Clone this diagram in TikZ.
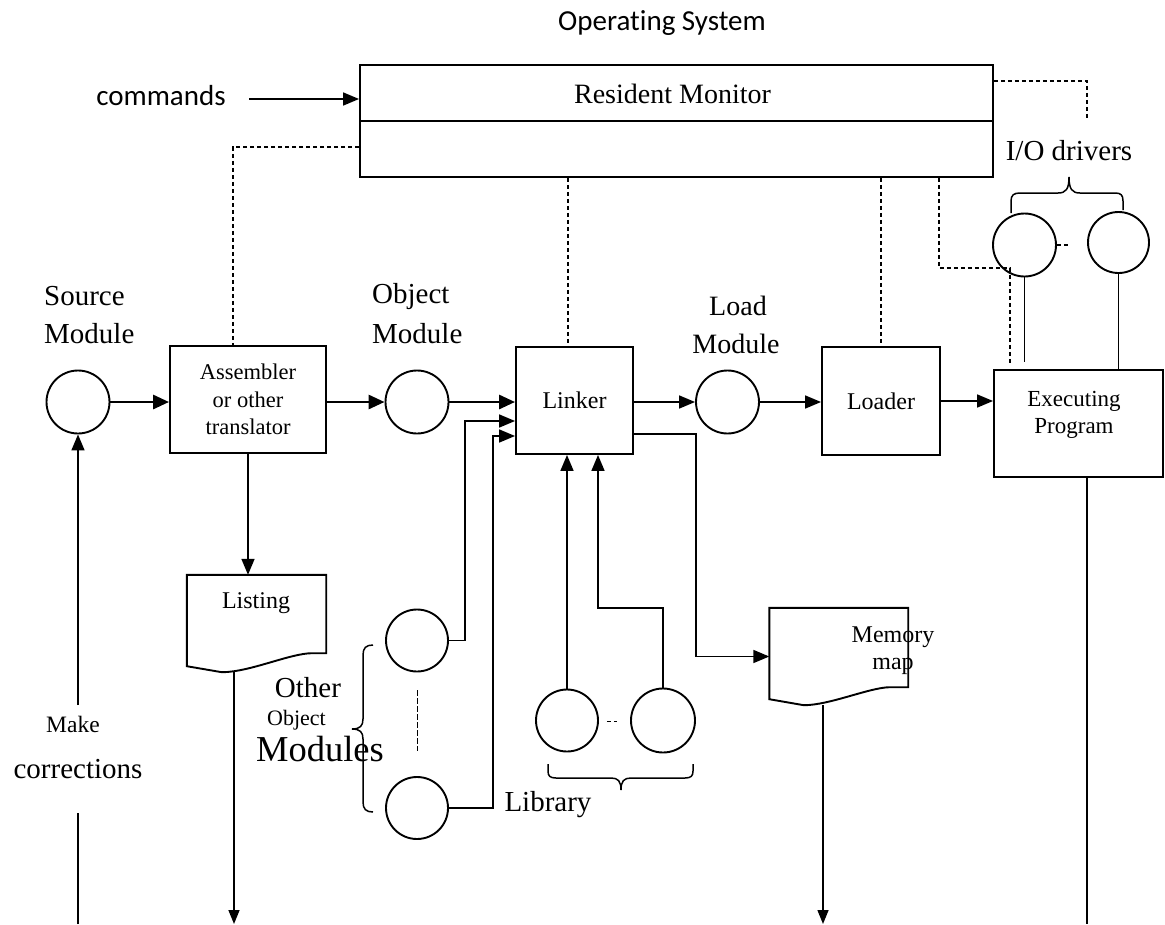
\documentclass[tikz,border=0pt]{standalone}
\usepackage{fontspec}
\setmainfont{Liberation Serif}
\newfontfamily\calibrifont[Ligatures=NoCommon]{Carlito}
\usetikzlibrary{arrows.meta,calc}

\begin{document}
\begin{tikzpicture}[x=1pt,y=-1pt,
  box/.style={draw, line width=1.9pt, inner sep=0pt},
  ring/.style={draw, circle, line width=1.9pt, minimum size=63pt, inner sep=0pt},
  wire/.style={line width=1.7pt},
  arr/.style={wire, -{Triangle[length=16pt,width=13pt]}},
  thickarr/.style={line width=2.9pt, -{Triangle[length=16pt,width=14pt]}},
  droparr/.style={line width=1.5pt, -{Triangle[length=14pt,width=11pt]}},
  dashline/.style={line width=1.4pt, dash pattern=on 4pt off 3pt},
  bracket/.style={line width=1.5pt},
  txt/.style={inner sep=0pt, anchor=base, font=\fontsize{29}{35}\selectfont},
  small/.style={inner sep=0pt, anchor=base, font=\fontsize{23}{28}\selectfont},
  sans/.style={inner sep=0pt, anchor=base, font=\calibrifont\fontsize{29}{35}\selectfont},
]
\useasboundingbox (0,0) rectangle (1165,924);

% --- operating system and resident monitor ---
\node[sans] (os) at (662,30) {Operating System};
\node[sans] (cmd) at (161,105) {commands};
\node[box, minimum width=633pt, minimum height=112pt] (rm) at (676.5,121) {};
\draw[line width=1.2pt] (rm.west) -- (rm.east);
\node[txt, font=\fontsize{28}{34}\selectfont] (rmtxt) at (672.5,103) {Resident Monitor};
\node[txt] (iotxt) at (1069,160) {I/O drivers};

% --- module labels ---
\node[txt, anchor=base west] (srcA) at (44,305) {Source};
\node[txt, anchor=base west] (srcB) at (44,343) {Module};
\node[txt, anchor=base west] (objA) at (372,303) {Object};
\node[txt, anchor=base west] (objB) at (372,343) {Module};
\node[txt, font=\fontsize{28}{34}\selectfont] (loadA) at (738,315) {Load};
\node[txt, font=\fontsize{28}{34}\selectfont] (loadB) at (736,353) {Module};

% --- main chain ---
\node[ring] (src) at (78,402) {};
\node[box, minimum width=156pt, minimum height=107pt, align=center,
      font=\fontsize{22.5}{27.5}\selectfont] (asm) at (248,399.5) {Assembler\\or other\\translator};
\node[ring] (obj) at (417,402) {};
\node[box, minimum width=117pt, minimum height=107pt,
      font=\fontsize{24}{29}\selectfont] (lnk) at (574.5,400.5) {Linker};
\node[ring] (load) at (727.5,402) {};
\node[box, minimum width=118pt, minimum height=108pt,
      font=\fontsize{24}{29}\selectfont] (ldr) at (881,401) {Loader};
\node[box, minimum width=169pt, minimum height=107pt] (exe) at (1078.5,423.5) {};
\node[small] (exeA) at (1074,406) {Executing};
\node[small] (exeB) at (1074,433) {Program};

% --- I/O driver circles ---
\node[ring, minimum size=63pt] (io1) at (1024.5,245) {};
\node[ring, minimum size=61pt] (io2) at (1118.5,242.5) {};

% --- listing document ---
\node[inner sep=0pt, minimum width=139pt, minimum height=97pt] (lst) at (256.5,623.5) {};
\draw[line width=1.9pt] (lst.north west) -- (lst.north east) -- ($(lst.south east)+(0,-19)$)
  -- ($(lst.south east)+(-14,-19)$)
  .. controls ($(lst.south east)+(-36,-19)$) and ($(lst.south west)+(63,0)$) .. ($(lst.south west)+(35,0)$)
  -- ($(lst.south west)+(0,-6)$) -- cycle;
\node[small, font=\fontsize{24}{29}\selectfont] (lsttxt) at (256,608) {Listing};

% --- memory map document ---
\node[inner sep=0pt, minimum width=138.5pt, minimum height=97pt] (mem) at (838.75,656.5) {};
\draw[line width=1.9pt] (mem.north west) -- (mem.north east) -- ($(mem.south east)+(0,-18)$)
  -- ($(mem.south east)+(-18,-18)$)
  .. controls ($(mem.south east)+(-38,-18)$) and ($(mem.south west)+(60.5,0)$) .. ($(mem.south west)+(34.5,0)$)
  -- ($(mem.south west)+(0,-6)$) -- cycle;
\node[small, font=\fontsize{24}{29}\selectfont] (memA) at (893,642) {Memory};
\node[small, font=\fontsize{24}{29}\selectfont] (memB) at (893,669) {map};

% --- other object modules and library ---
\node[ring, minimum size=62pt] (oo1) at (417,640.5) {};
\node[ring, minimum size=62pt] (oo2) at (417,808) {};
\node[ring, minimum size=62pt] (lib1) at (567,720.5) {};
\node[ring, minimum size=64pt] (lib2) at (663,720.5) {};
\node[txt] (othA) at (308,697) {Other};
\node[txt, font=\fontsize{22}{26}\selectfont] (othB) at (296.5,725) {Object};
\node[txt, font=\fontsize{36.5}{44}\selectfont] (othC) at (320,761) {Modules};
\node[txt] (libtxt) at (548,811) {Library};
\node[small, font=\fontsize{23.5}{28}\selectfont] (mk) at (73,732) {Make};
\node[txt] (corr) at (78,778) {corrections};

% --- solid connectors ---
\coordinate (cmdtail) at (249,99);
\draw[arr] (cmdtail) -- (cmdtail -| rm.west);
\draw[thickarr] (src.east) -- (src.east -| asm.west);
\draw[thickarr] (asm.east |- obj.west) -- (obj.west);
\draw[thickarr] (obj.east) -- (obj.east -| lnk.west);
\draw[arr] (lnk.east |- load.west) -- (load.west);
\draw[arr] (load.east) -- (load.east -| ldr.west);
\draw[arr] (ldr.east) -- (ldr.east -| exe.west);

\coordinate (j1) at (465,421);
\coordinate (j2) at (493,436);
\draw[arr] (oo1.east) -| (j1) -- (j1 -| lnk.west);
\draw[arr] (oo2.east) -| (j2) -- (j2 -| lnk.west);

\draw[arr] (lib1.north) -- (lib1.north |- lnk.south);
\coordinate (j3) at (598,608);
\draw[arr] (lib2.north) |- (j3) -- (j3 |- lnk.south);

\coordinate (j4) at (696,434);
\draw[arr] (j4 -| lnk.east) -- (j4) |- (mem.west);

\draw[arr] (asm.south) -- (asm.south |- lst.north);

\coordinate (lstdrop) at (234,924);
\draw[droparr] (lstdrop |- lst.south) -- (lstdrop);
\coordinate (memdrop) at (823,924);
\draw[droparr] (memdrop |- mem.south) -- (memdrop);
\coordinate (exedrop) at (1087,924);
\draw[wire] (exedrop |- exe.south) -- (exedrop);

\coordinate (mkbot) at (78,924);
\coordinate (mklow) at (78,813);
\coordinate (mkhigh) at (78,705);
\draw[wire] (mkbot) -- (mklow);
\draw[arr] (mkhigh) -- (src.south);

\draw[wire, shorten >=7pt] (io1.south) -- (io1.south |- exe.north);
\draw[wire] (io2.south) -- (io2.south |- exe.north);

% --- dashed control links from the monitor ---
\coordinate (dA) at (233,147);
\draw[dashline] (rm.west |- dA) -- (dA) -- (dA |- asm.north);
\coordinate (dB) at (568,0);
\draw[dashline] (rm.south -| dB) -- (lnk.north -| dB);
\draw[dashline] (rm.south -| ldr.north) -- (ldr.north);
\coordinate (dC) at (1087,81);
\coordinate (dD) at (1087,120);
\draw[dashline] (rm.east |- dC) -- (dC) -- (dD);
\coordinate (dE) at (939,268);
\coordinate (dF) at (1010,268);
\coordinate (dG) at (1010,363);
\draw[dashline] (rm.south -| dE) -- (dE) -- (dF) -- (dG);

\draw[dashline] (io1.east) -- ++(11,0);
\draw[dashline] ($(lib1.east)+(8,1)$) -- ++(10,0);
\draw[line width=1pt, dash pattern=on 6pt off 2pt] ($(oo1.south)+(0,18)$) -- ($(oo2.north)+(0,-25)$);

% --- braces ---
\draw[bracket] (1011,213) -- (1011,201) .. controls (1011,195) and (1014,193) .. (1020,193)
  -- (1058,193) .. controls (1066,193) and (1069,189) .. (1069,177)
  .. controls (1069,189) and (1072,193) .. (1080,193)
  -- (1115,193) .. controls (1121,193) and (1123,195) .. (1123,201) -- (1123,210);
\draw[bracket] (548,764) -- (548,771) .. controls (548,776) and (550,778) .. (556,778)
  -- (611,778) .. controls (618,778) and (621,781) .. (621,790)
  .. controls (621,781) and (624,778) .. (631,778)
  -- (685,778) .. controls (691,778) and (693,776) .. (693,771) -- (693,764);
\draw[bracket] (373,645) .. controls (366,645) and (363,648) .. (363,655)
  -- (363,719) .. controls (363,726) and (360,729) .. (352,729)
  .. controls (360,729) and (363,732) .. (363,739)
  -- (363,802) .. controls (363,809) and (366,812) .. (373,812);
\end{tikzpicture}
\end{document}
